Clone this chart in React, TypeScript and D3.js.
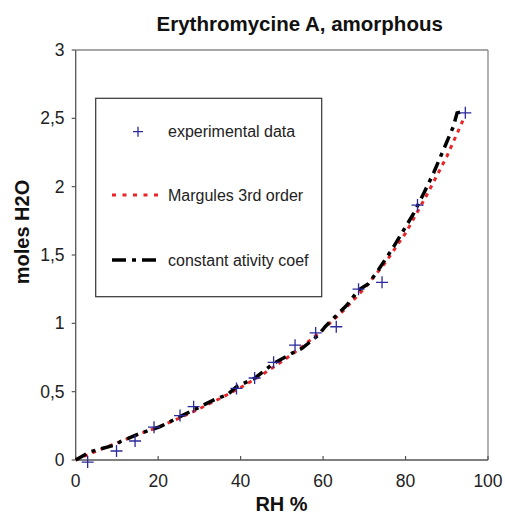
import React from "react";
import * as d3 from "d3";

const title = "Erythromycine A, amorphous";
const xLabel = "RH %";
const yLabel = "moles H2O";
const xTicks = [0, 20, 40, 60, 80, 100];
const yTicks = [0, 0.5, 1, 1.5, 2, 2.5, 3];
const legendLabels = ["experimental data", "Margules 3rd order", "constant ativity coef"];

const expRH = [2.9, 9.9, 14.4, 19.0, 25.3, 28.6, 39.0, 43.4, 48.0, 53.2, 58.2, 63.2, 68.6, 74.3, 82.9, 94.5];
const expMoles = [-0.015, 0.066, 0.139, 0.24, 0.325, 0.39, 0.524, 0.6, 0.715, 0.84, 0.93, 0.975, 1.25, 1.3, 1.865, 2.54];

const margRH = [0, 5, 10, 15, 20, 25, 30, 35, 40, 45, 50, 55, 60, 65, 70, 75, 80, 85, 90, 94];
const margMoles = [0, 0.065, 0.125, 0.185, 0.24, 0.305, 0.375, 0.45, 0.53, 0.62, 0.72, 0.83, 0.955, 1.095, 1.255, 1.44, 1.66, 1.93, 2.22, 2.49];

const constRH = [0, 3.5, 9.6, 10.8, 15.6, 20.5, 25.3, 30.2, 34.2, 36.7, 39, 43.5, 48, 52.4, 54.9, 58.9, 60.5, 63.3, 65.8, 68.6, 71, 73.4, 77.1, 79.5, 81.9, 84.4, 86.8, 89.2, 91.6, 92.5, 94.0];
const constMoles = [0, 0.06, 0.11, 0.134, 0.195, 0.244, 0.317, 0.39, 0.45, 0.475, 0.536, 0.6, 0.707, 0.78, 0.817, 0.914, 0.975, 1.06, 1.134, 1.244, 1.29, 1.39, 1.56, 1.68, 1.8, 1.95, 2.1, 2.27, 2.44, 2.54, 2.55];

const fmt = (v: number) => String(v).replace(".", ",");

export default function App() {
  const W = 505, H = 516;
  const x = d3.scaleLinear().domain([0, 100]).range([75.7, 488]);
  const y = d3.scaleLinear().domain([0, 3]).range([460, 50]);
  const font = "'Liberation Sans', Arial, Helvetica, sans-serif";

  const line = d3.line<[number, number]>().x(d => x(d[0])).y(d => y(d[1]));
  const margPath = line(margRH.map((r, i) => [r, margMoles[i]]) as [number, number][]) || "";
  const constPath = line(constRH.map((r, i) => [r, constMoles[i]]) as [number, number][]) || "";

  const blue = "#2a2a9c";
  const red = "#e8262a";
  const plus = (cx: number, cy: number, s: number, key: any) => (
    <path key={key} d={`M${cx - s},${cy}H${cx + s}M${cx},${cy - s}V${cy + s}`} stroke={blue} strokeWidth={1.3} fill="none" />
  );

  const lgX = 95.7, lgY = 98.3, lgW = 226, lgH = 198.4;

  return (
    <svg width={W} height={H} style={{ position: "absolute", left: 0, top: 0, background: "#fff" }} fontFamily={font}>
      <text x={299.7} y={31} textAnchor="middle" fontSize={20.5} fontWeight="bold" fill="#111">{title}</text>

      {/* frame */}
      <line x1={x(0)} x2={x(100)} y1={y(3)} y2={y(3)} stroke="#888" strokeWidth={1.3} />
      <line x1={x(100)} x2={x(100)} y1={y(3)} y2={y(0)} stroke="#888" strokeWidth={1.3} />
      <line x1={x(0)} x2={x(0)} y1={y(3)} y2={y(0)} stroke="#555" strokeWidth={1.3} />
      <line x1={x(0)} x2={x(100)} y1={y(0)} y2={y(0)} stroke="#555" strokeWidth={1.3} />

      {yTicks.map(t => (
        <g key={"y" + t}>
          <line x1={x(0) - 4} x2={x(0)} y1={y(t)} y2={y(t)} stroke="#555" strokeWidth={1.2} />
          <text x={64.5} y={y(t) + 6} textAnchor="end" fontSize={17.5} fill="#222">{fmt(t)}</text>
        </g>
      ))}
      {xTicks.map(t => (
        <g key={"x" + t}>
          <line x1={x(t)} x2={x(t)} y1={y(0) - 4} y2={y(0)} stroke="#555" strokeWidth={1.2} />
          <text x={x(t)} y={487} textAnchor="middle" fontSize={17.5} fill="#222">{t}</text>
        </g>
      ))}

      <text x={281.5} y={511} textAnchor="middle" fontSize={20} fontWeight="bold" fill="#111">{xLabel}</text>
      <text transform={`translate(29,232) rotate(-90)`} textAnchor="middle" fontSize={20} fontWeight="bold" fill="#111">{yLabel}</text>

      {/* curves */}
      <path d={margPath} fill="none" stroke={red} strokeWidth={3} strokeDasharray="4 5" />
      <path d={constPath} fill="none" stroke="#000" strokeWidth={3.5} strokeDasharray="12 6 4 6" />
      {expRH.map((r, i) => plus(x(r), y(expMoles[i]), 6, "p" + i))}

      {/* legend */}
      <rect x={lgX} y={lgY} width={lgW} height={lgH} fill="#fff" stroke="#333" strokeWidth={1.2} />
      {plus(138, 131.7, 5, "lg")}
      <text x={168} y={137} fontSize={16} fill="#222">{legendLabels[0]}</text>
      <line x1={112} x2={162} y1={195} y2={195} stroke={red} strokeWidth={3} strokeDasharray="4 6.5" />
      <text x={168} y={200.5} fontSize={16} fill="#222">{legendLabels[1]}</text>
      <line x1={112} x2={162} y1={260} y2={260} stroke="#000" strokeWidth={3.5} strokeDasharray="14 6 4 6" />
      <text x={168} y={265.5} fontSize={16} fill="#222">{legendLabels[2]}</text>
    </svg>
  );
}
